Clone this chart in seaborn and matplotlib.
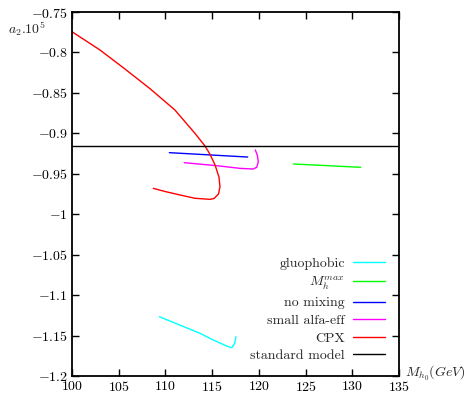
import matplotlib
matplotlib.use("Agg")
import matplotlib.pyplot as plt
import seaborn as sns

# ---------------------------------------------------------------------------
# dados
# ---------------------------------------------------------------------------
cpx_x = [100.0, 103.00, 105.67, 108.35, 111.02, 113.16, 114.24, 114.77, 115.31,
         115.73, 115.84, 115.68, 115.20, 114.77, 113.16, 111.56, 109.95, 108.70]
cpx_y = [-0.7744, -0.7970, -0.8205, -0.8448, -0.8712, -0.9000, -0.9157, -0.9259,
         -0.9391, -0.9540, -0.9660, -0.9750, -0.9806, -0.9816, -0.9803, -0.9762,
         -0.9719, -0.9680]

nomix_x = [110.42, 118.80]
nomix_y = [-0.9239, -0.9293]

small_x = [112.02, 115.49, 117.98, 119.40, 119.77, 119.94, 119.83, 119.62]
small_y = [-0.9363, -0.9400, -0.9433, -0.9441, -0.9420, -0.9351, -0.9268, -0.9206]

mhmax_x = [123.69, 130.90]
mhmax_y = [-0.9379, -0.9420]

gluo_x = [109.35, 113.70, 115.12, 116.56, 116.91, 117.12, 117.41, 117.55]
gluo_y = [-1.1267, -1.1472, -1.1555, -1.1629, -1.1645, -1.1650, -1.1596, -1.1514]

sm_x = [100, 135]
sm_y = [-0.9157, -0.9157]

# ---------------------------------------------------------------------------
# figura
# ---------------------------------------------------------------------------
sns.set_theme(style="ticks")
plt.rcParams['font.family'] = ['cmr10', 'DejaVu Serif']
plt.rcParams['mathtext.fontset'] = 'cm'
plt.rcParams['axes.formatter.use_mathtext'] = True
plt.rcParams['axes.unicode_minus'] = True

fig = plt.figure(figsize=(4.74, 3.93), dpi=100)
ax = fig.add_axes([72 / 474, 1 - 376 / 393, 327 / 474, 364 / 393])

series = [
    ('gluophobic', gluo_x, gluo_y, '#00ffff'),
    (r'$M_h^{max}$', mhmax_x, mhmax_y, '#00ff00'),
    ('no mixing', nomix_x, nomix_y, '#0000ff'),
    ('small alfa-eff', small_x, small_y, '#ff00ff'),
    ('CPX', cpx_x, cpx_y, '#ff0000'),
    ('standard model', sm_x, sm_y, 'black'),
]
for nome, xs, ys, cor in series:
    sns.lineplot(x=xs, y=ys, sort=False, estimator=None, color=cor,
                 linewidth=1.0, label=nome, ax=ax)

ax.set_xlim(100, 135)
ax.set_ylim(-1.2, -0.75)
ax.set_xticks(range(100, 136, 5))
ax.set_yticks([-1.2 + 0.05 * i for i in range(10)])
ax.set_yticklabels(['$-1.2$', '$-1.15$', '$-1.1$', '$-1.05$', '$-1$', '$-0.95$',
                    '$-0.9$', '$-0.85$', '$-0.8$', '$-0.75$'])
ax.set_xticklabels(['$%d$' % v for v in range(100, 136, 5)])
ax.tick_params(direction='in', length=5, width=1, top=True, right=True,
               labelsize=10, colors='black', pad=3)
for s in ax.spines.values():
    s.set_linewidth(1.3)
    s.set_color('black')

ax.set_xlabel('')
ax.set_ylabel('')
fig.text(8 / 474, 1 - 29 / 393, r'$a_2.10^5$', fontsize=10, ha='left', va='center')
fig.text(405 / 474, 1 - 373 / 393, r'$M_{h_0}(GeV)$', fontsize=10, ha='left', va='center')

leg = ax.legend(loc='lower right', frameon=False, markerfirst=False, fontsize=10,
                handlelength=2.3, handletextpad=0.6, labelspacing=0.35,
                borderaxespad=0.6)

fig.savefig('out.png', dpi=100)
